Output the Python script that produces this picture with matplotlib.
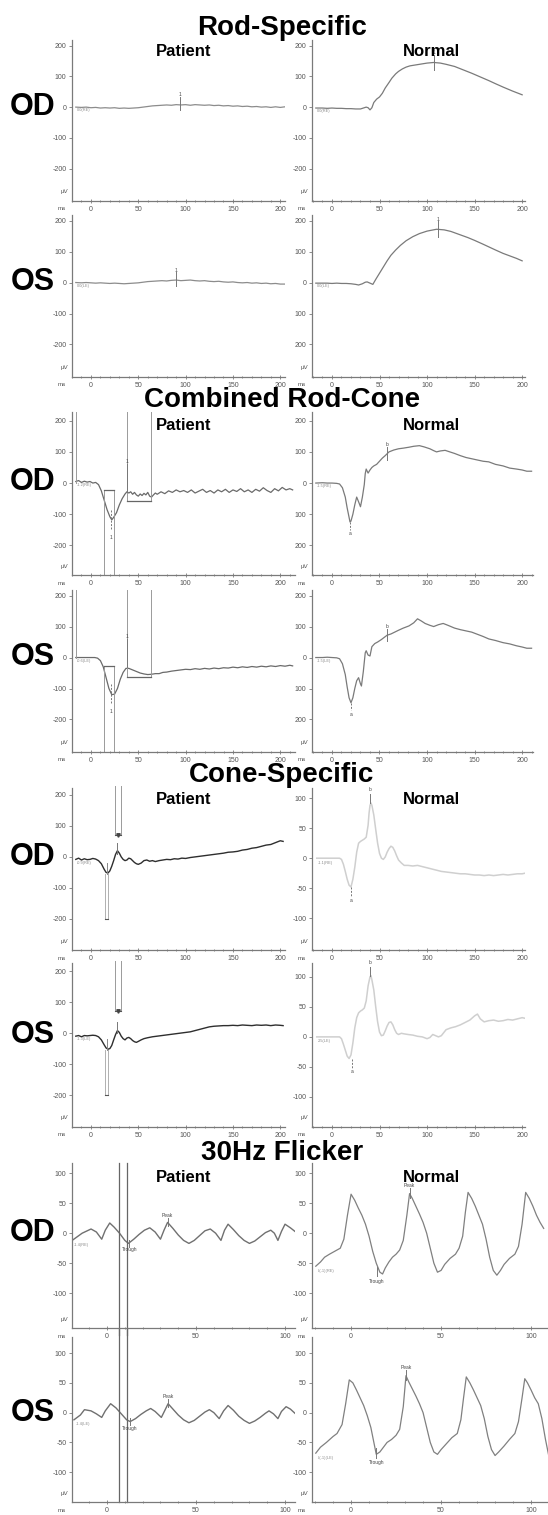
import matplotlib
matplotlib.use('Agg')
import matplotlib.pyplot as plt
from matplotlib.ticker import MultipleLocator

plt.rcParams['font.family'] = ['Liberation Sans', 'DejaVu Sans']
plt.rcParams['axes.unicode_minus'] = False

W, H = 548, 1515

# ---------------- data (ms, uV) ----------------
# Rod-specific
rod_od_pat_t = [-16, -10, -5, 0, 5, 10, 15, 20, 25, 30, 35, 40, 45, 50, 55, 60, 65, 70, 75, 80, 85, 90,
                95, 100, 105, 110, 115, 120, 125, 130, 135, 140, 145, 150, 155, 160, 165, 170, 175, 180,
                185, 190, 195, 200, 205]
rod_od_pat_v = [0, -1, 0, -2, -1, -3, -2, -3, -2, -4, -3, -4, -3, -2, 0, 2, 4, 5, 6, 7, 6, 8,
                7, 8, 6, 8, 7, 6, 7, 5, 6, 4, 5, 3, 4, 2, 3, 1, 2, 0,
                1, -1, 1, -1, 1]
rod_os_pat_t = rod_od_pat_t
rod_os_pat_v = [0, -1, 0, -1, -2, -1, -2, -3, -2, -3, -4, -3, -2, -1, 1, 3, 4, 5, 6, 5, 7, 8,
                6, 7, 8, 6, 5, 6, 4, 3, 4, 2, 1, 2, 0, -1, 0, -2, -1, -3,
                -2, -4, -3, -5, -5]
rod_od_norm_t = [-17, -10, -5, 0, 5, 10, 15, 20, 25, 30, 33, 36, 38, 40, 42, 44, 47, 50, 53, 56,
                 60, 63, 67, 70, 74, 78, 82, 88, 94, 100, 107, 114, 120, 129, 138, 147, 156, 165, 172, 180,
                 190, 200]
rod_od_norm_v = [-3, -3, -4, -3, -4, -4, -5, -5, -6, -6, -3, 0, -2, -9, -2, 15, 26, 33, 45, 62,
                 80, 94, 108, 116, 124, 130, 134, 137, 140, 143, 145, 143, 139, 132, 121, 110, 98, 86, 76, 65,
                 52, 40]
rod_os_norm_t = [-17, -10, -5, 0, 5, 10, 15, 20, 25, 28, 32, 35, 37, 40, 43, 46, 50, 54, 58, 62,
                 67, 72, 78, 85, 92, 100, 110, 118, 125, 134, 143, 150, 158, 165, 172, 180, 187, 194, 200]
rod_os_norm_v = [-2, -2, -2, -3, -2, -3, -3, -4, -6, -8, -4, 1, 2, -2, -6, 10, 30, 50, 70, 88,
                 105, 120, 135, 148, 158, 166, 172, 170, 165, 155, 145, 136, 125, 115, 105, 94, 86, 78, 70]

# Combined rod-cone
comb_od_pat_t = [-16, -13, -10, -7, -4, -1, 2, 5, 8, 11, 14, 17, 20, 22, 24, 27, 30, 33, 36, 38,
                 40, 42, 44, 46, 48, 50, 52, 54, 56, 58, 60, 62, 64, 66, 68, 70, 74, 78, 82, 86,
                 90, 94, 98, 102, 106, 110, 114, 118, 122, 126, 130, 134, 138, 142, 146, 150, 154, 158, 162, 166,
                 170, 174, 178, 182, 186, 190, 194, 198, 202, 206, 210, 213]
comb_od_pat_v = [5, 8, 2, 6, 3, 5, 0, 2, -5, -25, -55, -85, -108, -118, -110, -95, -70, -50, -35, -28,
                 -32, -28, -36, -30, -38, -42, -35, -40, -33, -38, -30, -42, -45, -38, -32, -36, -28, -34, -25, -30,
                 -22, -28, -24, -30, -22, -32, -26, -20, -30, -24, -32, -22, -28, -20, -30, -22, -27, -18, -28, -22,
                 -30, -20, -26, -15, -24, -30, -18, -25, -14, -22, -18, -22]
comb_os_pat_t = [-16, -10, -5, 0, 4, 7, 10, 13, 16, 19, 22, 25, 28, 31, 34, 37, 40, 44, 48, 52,
                 56, 60, 64, 68, 72, 76, 80, 85, 90, 95, 100, 105, 110, 115, 120, 125, 130, 135, 140, 145,
                 150, 155, 160, 165, 170, 175, 180, 185, 190, 195, 200, 205, 210, 213]
comb_os_pat_v = [0, 0, 0, 0, 0, -2, -10, -30, -65, -100, -120, -118, -100, -70, -48, -35, -35, -40, -45, -50,
                 -53, -55, -54, -52, -52, -48, -47, -44, -42, -40, -38, -39, -36, -38, -35, -37, -34, -36, -33, -34,
                 -31, -33, -30, -32, -29, -31, -28, -30, -27, -29, -26, -28, -25, -27]
comb_od_norm_t = [-17, -10, -5, 0, 5, 8, 11, 14, 16, 18, 19, 20, 22, 24, 26, 28, 30, 32, 34, 35,
                  36, 38, 40, 42, 44, 47, 50, 53, 56, 60, 65, 70, 75, 81, 86, 92, 97, 103, 107, 110,
                  114, 119, 124, 129, 135, 141, 147, 153, 159, 165, 172, 180, 187, 194, 200, 205, 210]
comb_od_norm_v = [0, 1, 0, 0, -1, -3, -15, -45, -80, -110, -125, -122, -100, -70, -45, -60, -76, -45, -5, 30,
                  45, 32, 42, 50, 55, 60, 70, 80, 88, 100, 106, 110, 112, 115, 118, 120, 116, 110, 104, 100,
                  103, 105, 100, 95, 88, 82, 78, 74, 70, 68, 60, 55, 48, 45, 42, 38, 38]
comb_os_norm_t = [-17, -10, -5, 0, 5, 8, 11, 14, 16, 18, 20, 22, 24, 26, 28, 30, 31, 33, 35, 36,
                  38, 40, 42, 45, 48, 52, 55, 58, 62, 66, 70, 75, 81, 86, 90, 94, 98, 103, 107, 112,
                  117, 122, 129, 135, 141, 147, 153, 159, 165, 172, 180, 187, 194, 200, 205, 210]
comb_os_norm_v = [0, 0, 1, 0, -1, -4, -20, -55, -95, -130, -146, -130, -100, -75, -65, -85, -92, -45, 15, 22,
                  8, 5, 35, 45, 50, 58, 65, 72, 76, 82, 88, 95, 102, 112, 125, 118, 110, 104, 100, 106,
                  110, 104, 95, 90, 86, 82, 75, 68, 60, 55, 48, 44, 38, 34, 30, 30]

# Cone-specific
cone_od_pat_t = [-16, -13, -10, -7, -4, -1, 2, 5, 8, 11, 14, 16, 18, 20, 22, 24, 26, 28, 30, 32,
                 34, 36, 38, 40, 42, 44, 46, 48, 50, 53, 56, 59, 62, 65, 68, 72, 76, 80, 84, 88,
                 92, 96, 100, 105, 110, 115, 120, 125, 130, 135, 140, 145, 150, 155, 160, 165, 170, 175, 180, 185,
                 190, 195, 200, 203]
cone_od_pat_v = [-8, -4, -10, -6, -9, -8, -5, -7, -12, -22, -40, -50, -52, -45, -30, -12, 8, 20, 12, 0,
                 -8, -12, -10, -4, -6, -12, -18, -22, -24, -20, -12, -10, -14, -12, -15, -12, -10, -8, -9, -6,
                 -7, -4, -5, -2, 0, 2, 4, 6, 8, 10, 12, 15, 16, 18, 22, 24, 28, 30, 34, 38,
                 40, 46, 52, 50]
cone_os_pat_t = [-16, -13, -10, -7, -4, -1, 2, 5, 8, 11, 14, 16, 18, 20, 22, 24, 26, 28, 30, 32,
                 34, 36, 38, 40, 42, 44, 46, 48, 50, 53, 56, 60, 65, 70, 75, 80, 85, 90, 95, 100,
                 105, 110, 115, 120, 125, 130, 135, 140, 145, 150, 155, 160, 165, 170, 175, 180, 185, 190, 195, 200,
                 203]
cone_os_pat_v = [-10, -8, -12, -8, -9, -8, -7, -8, -12, -22, -38, -48, -52, -50, -40, -22, -5, 8, 2, -10,
                 -18, -22, -16, -14, -18, -24, -28, -30, -27, -22, -18, -15, -12, -10, -8, -6, -4, -2, 0, 2,
                 4, 8, 12, 16, 20, 22, 23, 24, 24, 25, 24, 26, 25, 24, 26, 25, 26, 24, 26, 25,
                 24]
cone_od_norm_t = [-16, -10, -5, 0, 5, 8, 10, 12, 14, 16, 18, 20, 22, 24, 26, 28, 30, 32, 34, 36,
                  38, 39, 40, 41, 42, 44, 46, 48, 50, 52, 54, 56, 58, 60, 62, 64, 66, 68, 70, 73,
                  76, 80, 85, 90, 95, 100, 105, 110, 115, 120, 125, 130, 135, 140, 145, 150, 155, 160, 165, 170,
                  175, 180, 185, 190, 195, 200, 203]
cone_od_norm_v = [0, 0, 0, 0, 0, 0, -2, -10, -22, -35, -45, -48, -35, -15, 10, 25, 28, 30, 32, 35,
                  55, 75, 88, 92, 88, 72, 48, 25, 8, 0, -2, 2, 10, 16, 20, 18, 12, 4, -3, -8,
                  -12, -12, -13, -12, -14, -16, -18, -20, -22, -23, -24, -25, -26, -26, -27, -28, -28, -29, -28, -29,
                  -28, -27, -28, -27, -26, -26, -25]
cone_os_norm_t = [-16, -10, -5, 0, 5, 8, 10, 12, 14, 16, 18, 20, 22, 24, 26, 28, 30, 32, 34, 36,
                  38, 40, 41, 42, 44, 46, 48, 50, 52, 54, 56, 58, 60, 62, 64, 66, 68, 70, 73, 76,
                  80, 85, 90, 95, 100, 103, 106, 109, 112, 115, 120, 125, 130, 135, 140, 145, 150, 153, 156, 160,
                  165, 170, 175, 180, 185, 190, 195, 200, 203]
cone_os_norm_v = [0, 0, 0, 0, 0, 0, -3, -12, -22, -32, -36, -30, -10, 15, 32, 40, 43, 45, 48, 60,
                  85, 100, 102, 95, 78, 50, 25, 8, 2, 3, 10, 18, 24, 25, 20, 12, 6, 4, 6, 5,
                  4, 3, 1, 0, -3, -1, 4, 2, 0, 2, 12, 15, 17, 20, 24, 28, 35, 38, 30, 25,
                  27, 28, 26, 27, 29, 28, 30, 32, 31]

# 30 Hz flicker
flk_od_pat_t = [-19.6, -14, -9, -6, -3, -1, 1.5, 4, 7, 10, 12, 15, 18, 21, 24, 27, 30, 32, 34, 37,
                40, 43, 46, 49, 52, 55, 58, 61, 64, 66, 68, 71, 74, 77, 80, 83, 86, 89, 92, 94,
                96, 98, 100, 103, 106]
flk_od_pat_v = [-12, 0, 7, 2, -10, 5, 17, 10, 0, -12, -17, -10, -2, 5, 9, 2, -10, 5, 18, 8,
                -3, -12, -17, -12, -4, 4, 7, 0, -12, 5, 15, 6, -4, -12, -17, -13, -6, 1, 5, 0,
                -12, 3, 15, 9, 2]
flk_os_pat_t = [-18.6, -15, -12.7, -9, -6, -3, -1, 2, 5, 8, 11, 13, 16, 19, 22, 24.5, 27, 30.5, 32.5, 34.3,
                37, 40, 43, 46, 49, 52, 55, 57.5, 60, 63, 65.5, 68, 71, 74, 77, 80, 83, 86, 89, 91,
                93.5, 96, 98, 100.6, 103, 107]
flk_os_pat_v = [-12, -4, 5, 3, -2, -8, 3, 15, 8, -2, -12, -15, -10, -3, 3, 7, 2, -8, 4, 15,
                6, -4, -12, -17, -13, -6, 1, 5, 0, -10, 3, 12, 4, -6, -13, -18, -14, -8, -1, 3,
                -2, -10, 2, 10, 6, -5]
flk_od_norm_t = [-19.6, -17, -14.7, -12, -9, -6, -4, -2, 0, 2, 4, 6, 8, 10, 12, 14, 16, 17.5, 19, 21,
                 23, 25, 27, 29, 31, 32.5, 34, 36, 38, 40, 42, 44, 46, 48, 50, 52, 55, 58, 60, 62,
                 63.5, 65, 67, 69, 71, 73, 75, 77, 79, 81, 83, 85, 88, 91, 93, 95, 97, 99, 101, 103,
                 105, 107]
flk_od_norm_v = [-55, -48, -40, -35, -30, -25, -10, 30, 65, 55, 42, 30, 15, -5, -30, -50, -65, -68, -58, -48,
                 -40, -35, -28, -12, 30, 66, 58, 45, 32, 18, 0, -25, -50, -65, -62, -52, -42, -35, -25, -5,
                 35, 68, 58, 45, 30, 15, -10, -40, -62, -70, -62, -52, -42, -35, -22, 15, 68, 58, 45, 30,
                 18, 8]
flk_os_norm_t = [-19.6, -17, -13.7, -10, -7.8, -5, -3, -1, 1, 3, 5, 7, 9, 11, 13, 14, 16, 18, 20, 22.5,
                 25, 27, 29, 30.5, 32, 34, 36, 38, 40, 42, 44, 46, 48, 50, 53, 56, 59, 61, 62.5, 64,
                 66, 68, 70, 72, 74, 76, 78, 80, 82, 85, 88, 91, 93, 95, 96.5, 98, 100, 102, 104, 106,
                 108, 110]
flk_os_norm_v = [-68, -58, -50, -40, -35, -20, 15, 55, 50, 38, 25, 12, -5, -25, -55, -70, -66, -58, -50, -45,
                 -38, -28, 10, 62, 52, 40, 28, 15, 0, -25, -50, -66, -70, -62, -52, -42, -35, -12, 25, 60,
                 50, 38, 25, 12, -10, -40, -62, -72, -66, -56, -45, -35, -15, 25, 57, 50, 38, 25, 15, -10,
                 -45, -75]

# cursor / marker positions (ms, uV)
rod_pat_cursor = [(94, 9), (90, 8)]
rod_norm_cursor = [(107, 145), (111, 173)]
comb_start_ms = -16
comb_box_ms = [14, 24.5]
comb_box_top = [-22, -27]
comb_bracket_ms = [38, 63]
comb_bracket_uv = [-57, -63]
comb_trough_ms = [21, 21]
comb_norm_a = [(19, -125), (20, -146)]
comb_norm_b = [(58, 95), (58, 72)]
cone_b_lines_ms = [25, 32]
cone_b_bar_uv = 70
cone_a_box_ms = [14.5, 18.5]
cone_a_box_uv = [-55, -200]
cone_norm_a = [(20.5, -48), (21, -36)]
cone_norm_b = [(40.5, 92), (40.5, 102)]
flk_pat_lines_ms = [6.5, 11.2]
flk_pat_trough = [(12.5, -17), (12.7, -15)]
flk_pat_peak = [(34, 18), (34.3, 15)]
flk_norm_trough = [(14.3, -66), (14, -70)]
flk_norm_peak = [(32.5, 66), (30.5, 62)]

start_labels = ['0.0(RE)', '0.0(LE)', '-1.2(RE)', '-0.6(LE)', '-0.9(RE)', '-1.3(LE)', '-1.4(RE)', '-1.4(LE)']
norm_start_labels = ['0.0(RE)', '0.0(LE)', '-1.5(RE)', '-1.5(LE)', '-1.1(RE)', '2.5(LE)', 'L(-1)(RE)', 'L(-1)(LE)']

sections = ['Rod-Specific', 'Combined Rod-Cone', 'Cone-Specific', '30Hz Flicker']
eyes = ['OD', 'OS']

AXIS_GRAY = '#7a7a7a'
LABEL_GRAY = '#555555'
CUR = '#9a9a9a'


def px_axes(fig, left, top, right, bottom):
    return fig.add_axes([left / W, 1 - bottom / H, (right - left) / W, (bottom - top) / H])


def style_axes(ax, xlim, ylim, xticks, yticks, ylabels):
    ax.set_xlim(*xlim)
    ax.set_ylim(*ylim)
    ax.patch.set_alpha(0)
    for side in ('top', 'right'):
        ax.spines[side].set_visible(False)
    for side in ('left', 'bottom'):
        ax.spines[side].set_color(AXIS_GRAY)
        ax.spines[side].set_linewidth(0.9)
    ax.set_xticks(xticks)
    ax.set_xticklabels([str(t) for t in xticks])
    ax.xaxis.set_minor_locator(MultipleLocator(10))
    ax.set_yticks(yticks)
    ax.set_yticklabels(ylabels)
    ax.tick_params(which='both', colors=AXIS_GRAY, labelcolor=LABEL_GRAY, labelsize=5, width=0.6, pad=1.5)
    ax.tick_params(axis='x', which='major', direction='inout', length=3.5)
    ax.tick_params(axis='x', which='minor', direction='inout', length=2)
    ax.tick_params(axis='y', length=2.5)
    ax.annotate('ms', xy=(0, 0), xycoords='axes fraction', xytext=(-10, -8), textcoords='offset pixels',
                fontsize=4.5, color=LABEL_GRAY, ha='center', va='center')
    ax.annotate('µV', xy=(0, 0), xycoords='axes fraction', xytext=(-8, 9), textcoords='offset pixels',
                fontsize=4.5, color=LABEL_GRAY, ha='center', va='center')


def cursor(ax, x, y0, y1, label=None, ly=None, color='#777777', ls='-'):
    ax.plot([x, x], [y0, y1], color=color, lw=0.7, ls=ls, clip_on=False)
    if label is not None:
        ax.text(x, ly, label, fontsize=3.5, color='#444444', ha='center', va='center', clip_on=False)


fig = plt.figure(figsize=(W / 100, H / 100), dpi=100)

# pixel layout: rows (top, bottom)
rows = [(40, 201), (215, 377), (412, 575), (590, 752), (788, 950), (963, 1127), (1163, 1328), (1337, 1502)]
title_y = [28, 400, 775, 1153]
head_y = [51, 425, 800, 1177]

lab200 = ['200', '100', '0', '-100', '-200']
lab200_nominus = ['200', '100', '0', '100', '200']
tick200 = [200, 100, 0, -100, -200]
t200 = [0, 50, 100, 150, 200]

axes = {}
for i in range(8):
    top, bot = rows[i]
    sec = i // 2
    if sec in (0, 2):
        lx, rx = (72, 285), (312, 525)
        lxl, rxl = (-20, 205), (-21, 203)
    elif sec == 1:
        lx, rx = (72, 295), (312, 533)
        lxl, rxl = (-20, 215.5), (-21, 211.5)
    else:
        lx, rx = (72, 295), (312, 548)
        lxl, rxl = (-19.7, 105.6), (-21.7, 109.4)
    axL = px_axes(fig, lx[0], top, lx[1], bot)
    axR = px_axes(fig, rx[0], top, rx[1], bot)
    if sec < 3:
        yl = {0: (-305, 218), 1: (-305, 218), 2: (-295, 228), 3: (-305, 218), 4: (-300, 222), 5: (-303, 226)}[i]
        style_axes(axL, lxl, yl, t200, tick200, lab200)
        if sec == 2:
            yr = (-153, 117) if i == 4 else (-150, 123)
            style_axes(axR, rxl, yr, t200, [100, 50, 0, -50, -100], ['100', '50', '0', '-50', '-100'])
        else:
            style_axes(axR, rxl, yl, t200, tick200, lab200 if i == 0 else lab200_nominus)
    else:
        yl = (-158, 117) if i == 6 else (-150, 127)
        style_axes(axL, lxl, yl, [0, 50, 100], [100, 50, 0, -50, -100], ['100', '50', '0', '-50', '-100'])
        style_axes(axR, rxl, yl, [0, 50, 100], [100, 50, 0, -50, -100], ['100', '50', '0', '-50', '-100'])
    axes[i] = (axL, axR)

# ---------------- traces ----------------
pat_traces = [(rod_od_pat_t, rod_od_pat_v), (rod_os_pat_t, rod_os_pat_v),
              (comb_od_pat_t, comb_od_pat_v), (comb_os_pat_t, comb_os_pat_v),
              (cone_od_pat_t, cone_od_pat_v), (cone_os_pat_t, cone_os_pat_v),
              (flk_od_pat_t, flk_od_pat_v), (flk_os_pat_t, flk_os_pat_v)]
norm_traces = [(rod_od_norm_t, rod_od_norm_v), (rod_os_norm_t, rod_os_norm_v),
               (comb_od_norm_t, comb_od_norm_v), (comb_os_norm_t, comb_os_norm_v),
               (cone_od_norm_t, cone_od_norm_v), (cone_os_norm_t, cone_os_norm_v),
               (flk_od_norm_t, flk_od_norm_v), (flk_os_norm_t, flk_os_norm_v)]
pat_colors = ['#8c8c8c', '#8c8c8c', '#6a6a6a', '#6a6a6a', '#2e2e2e', '#2e2e2e', '#707070', '#707070']
norm_colors = ['#7a7a7a', '#7a7a7a', '#7a7a7a', '#7a7a7a', '#cfcfcf', '#cfcfcf', '#808080', '#808080']

for i in range(8):
    axL, axR = axes[i]
    (pt, pv), (nt, nv) = pat_traces[i], norm_traces[i]
    axL.plot(pt, pv, color=pat_colors[i], lw=0.9 if i < 4 else 1.0)
    axR.plot(nt, nv, color=norm_colors[i], lw=0.9 if i != 4 and i != 5 else 1.1)
    axL.text(pt[0] + 1, pv[0] - 4, start_labels[i], fontsize=2.8, color='#888888', ha='left', va='top')
    axR.text(nt[0] + 1, nv[0] - 4, norm_start_labels[i], fontsize=2.8, color='#888888', ha='left', va='top')

# rod cursors
for k in range(2):
    axL, axR = axes[k]
    x, y = rod_pat_cursor[k]
    cursor(axL, x, y - 18, y + 25, '1', y + 32)
    x, y = rod_norm_cursor[k]
    cursor(axR, x, y - 25, y + 25, '1', y + 32)

# combined rod-cone cursors
for k in range(2):
    axL, axR = axes[2 + k]
    ylo, yhi = axL.get_ylim()
    cursor(axL, comb_start_ms, 0, yhi, color=CUR)
    for x in comb_box_ms:
        cursor(axL, x, comb_box_top[k], ylo, color=CUR)
    axL.plot(comb_box_ms, [comb_box_top[k]] * 2, color='#666666', lw=0.9)
    for x in comb_bracket_ms:
        cursor(axL, x, comb_bracket_uv[k], yhi, color=CUR)
    axL.plot(comb_bracket_ms, [comb_bracket_uv[k]] * 2, color='#666666', lw=0.9)
    cursor(axL, comb_bracket_ms[0], -30, 60, '1', 68)
    cursor(axL, comb_trough_ms[k], -85, -150, '1', -175, ls=(0, (2, 1.5)))
    x, y = comb_norm_a[k]
    cursor(axR, x, y, y - 25, 'a', y - 38, ls=(0, (2, 1.5)))
    x, y = comb_norm_b[k]
    cursor(axR, x, y - 20, y + 20, 'b', y + 28)

# cone-specific cursors
for k in range(2):
    axL, axR = axes[4 + k]
    ylo, yhi = axL.get_ylim()
    for x in cone_b_lines_ms:
        cursor(axL, x, cone_b_bar_uv, yhi + 8, color=CUR)
    axL.plot(cone_b_lines_ms, [cone_b_bar_uv] * 2, color='#555555', lw=0.8)
    axL.plot([sum(cone_b_lines_ms) / 2], [cone_b_bar_uv], marker='v', ms=2.5, color='#444444')
    cursor(axL, 28, 10 if k == 0 else 0, 45 if k == 0 else 35)
    for x in cone_a_box_ms:
        cursor(axL, x, cone_a_box_uv[0], cone_a_box_uv[1], color='#b0b0b0')
    axL.plot(cone_a_box_ms, [cone_a_box_uv[1]] * 2, color='#555555', lw=0.8)
    cursor(axL, 16.5, -20, -55, color='#888888')
    x, y = cone_norm_a[k]
    cursor(axR, x, y, y - 15, 'a', y - 22, ls=(0, (2, 1.5)))
    x, y = cone_norm_b[k]
    cursor(axR, x, y, y + 15, 'b', y + 22)

# flicker cursors
for k in range(2):
    axL, axR = axes[6 + k]
    ylo, yhi = axL.get_ylim()
    for x in flk_pat_lines_ms:
        axL.plot([x, x], [ylo - (12 if k == 0 else 0), yhi + (0 if k == 0 else 14)], color='#666666',
                 lw=0.9, clip_on=False)
    x, y = flk_pat_trough[k]
    cursor(axL, x, y - 6, y + 6, 'Trough', y - 11)
    x, y = flk_pat_peak[k]
    cursor(axL, x, y - 6, y + 8, 'Peak', y + 12)
    x, y = flk_norm_trough[k]
    cursor(axR, x, y - 6, y + 10, 'Trough', y - 14)
    x, y = flk_norm_peak[k]
    cursor(axR, x, y - 8, y + 10, 'Peak', y + 14)

# ---------------- text ----------------
for s in range(4):
    fig.text(282 / W, 1 - title_y[s] / H, sections[s], fontsize=20, fontweight='bold', ha='center', va='center')
    fig.text(184 / W, 1 - head_y[s] / H, 'Patient', fontsize=12, fontweight='bold', ha='center', va='center')
    fig.text(431 / W, 1 - head_y[s] / H, 'Normal', fontsize=12, fontweight='bold', ha='center', va='center')

zero_y = [107, 282, 482, 657, 857, 1035, 1233, 1413]
for i in range(8):
    fig.text(33 / W, 1 - zero_y[i] / H, eyes[i % 2], fontsize=22, fontweight='bold', ha='center', va='center')

fig.savefig('out.png', dpi=100)
plt.close(fig)
